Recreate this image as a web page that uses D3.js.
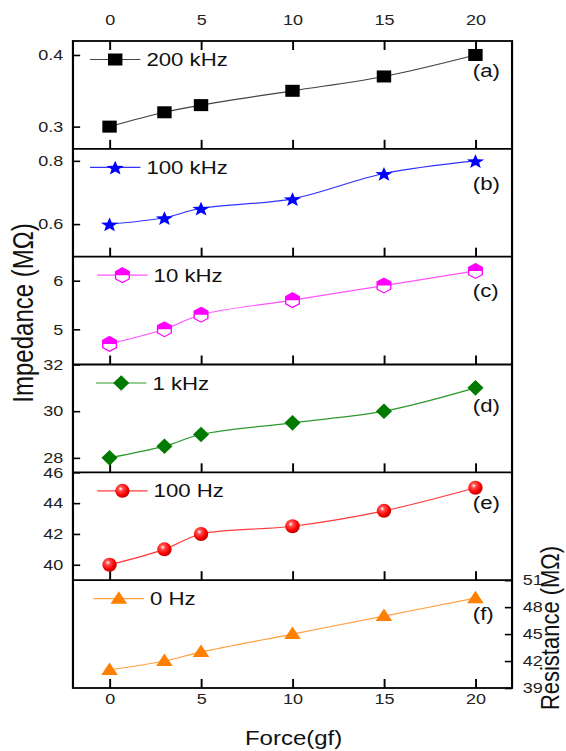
<!DOCTYPE html>
<html>
<head>
<meta charset="utf-8">
<script src="https://cdn.jsdelivr.net/npm/d3@7"></script>
<style>
  html, body { margin: 0; padding: 0; background: #fff; }
  svg text { font-family: "Liberation Sans", Arial, sans-serif; }
</style>
</head>
<body>
<svg id="chart"></svg>
<script>
// values
var force = [0, 3, 5, 10, 15, 20];
var imp200k = [0.30, 0.32, 0.33, 0.35, 0.37, 0.40];
var imp100k = [0.60, 0.62, 0.65, 0.68, 0.76, 0.80];
var imp10k = [4.7, 5.0, 5.3, 5.6, 5.9, 6.2];
var imp1k = [28, 28.5, 29, 29.5, 30, 31];
var imp100 = [40, 41, 42, 42.5, 43.5, 45];
var res0 = [41, 42, 43, 45, 47, 49];

var seriesNames = ["200 kHz", "100 kHz", "10 kHz", "1 kHz", "100 Hz", "0 Hz"];
var panelTags = ["(a)", "(b)", "(c)", "(d)", "(e)", "(f)"];
var xTicks = [0, 5, 10, 15, 20];
var yTicks = [[0.3, 0.4], [0.6, 0.8], [5, 6], [28, 30, 32], [40, 42, 44, 46], [39, 42, 45, 48, 51]];
var yDomains = [[0.269, 0.4195], [0.497, 0.838], [4.276, 6.494], [27.38, 32], [39, 46], [39, 51]];

var allSeries = [imp200k, imp100k, imp10k, imp1k, imp100, res0];
var markerColors = ["#000000", "#0000ff", "#ff00ff", "#007a00", "#ff0000", "#ff8000"];
var lineColors = ["#444444", "#3333ff", "#ff55ff", "#2e9a2e", "#ff3b3b", "#ffa040"];
var markerKinds = ["square", "star", "hexhalf", "diamond", "ball", "triangle"];

// the original figure is stretched sideways, so draw in a narrower box and stretch it
var W = 566, H = 751, SX = 1.2;
var DW = W / SX;

var svg = d3.select("#chart")
  .attr("width", W).attr("height", H)
  .attr("viewBox", "0 0 " + DW + " " + H)
  .attr("preserveAspectRatio", "none");

var defs = svg.append("defs");
var grad = defs.append("radialGradient").attr("id", "ballGrad")
  .attr("cx", "38%").attr("cy", "35%").attr("r", "65%");
grad.append("stop").attr("offset", "0%").attr("stop-color", "#ffffff");
grad.append("stop").attr("offset", "25%").attr("stop-color", "#ff5050");
grad.append("stop").attr("offset", "70%").attr("stop-color", "#ff0000");
grad.append("stop").attr("offset", "100%").attr("stop-color", "#c00000");

var frameL = 60.8, frameR = 426.7, frameT = 41, frameB = 688;
var ph = (frameB - frameT) / 6;

var x = d3.scaleLinear().domain([-2, 22]).range([frameL, frameR]);
var plain = function(d) { return String(d); };

// layout tweaks per panel (legend shift, tag height)
var legendDx = [0, 0, 6, 5, 6, 3];
var tagDy = [29, 34.5, 33.5, 40.5, 30.5, 33];

function drawMarker(g, kind, color) {
  if (kind === "square") {
    g.append("rect").attr("x", -6).attr("y", -6).attr("width", 12).attr("height", 12)
      .attr("fill", color);
  } else if (kind === "star") {
    var pts = [];
    for (var i = 0; i < 10; i++) {
      var r = i % 2 === 0 ? 7.6 : 3.2;
      var a = -Math.PI / 2 + i * Math.PI / 5;
      pts.push([r * Math.cos(a), r * Math.sin(a) + 1]);
    }
    g.append("path").attr("d", "M" + pts.join("L") + "Z").attr("fill", color);
  } else if (kind === "hexhalf") {
    var hex = [];
    for (var j = 0; j < 6; j++) {
      var b = -Math.PI / 2 + j * Math.PI / 3;
      hex.push([6.6 * Math.cos(b), 7.4 * Math.sin(b)]);
    }
    g.append("path").attr("d", "M" + hex.join("L") + "Z")
      .attr("fill", "#fff").attr("stroke", color).attr("stroke-width", 1.1);
    var topHalf = [[hex[4][0], 0], hex[4], hex[5], hex[0], hex[1], [hex[1][0], 0]];
    g.append("path").attr("d", "M" + topHalf.join("L") + "Z").attr("fill", color);
  } else if (kind === "diamond") {
    g.append("path").attr("d", "M0,-7.8L6.7,0L0,7.8L-6.7,0Z").attr("fill", color);
  } else if (kind === "ball") {
    g.append("ellipse").attr("rx", 6).attr("ry", 7).attr("fill", "url(#ballGrad)");
  } else if (kind === "triangle") {
    g.append("path").attr("d", "M0,-7.5L6.9,5L-6.9,5Z").attr("fill", color);
  }
}

allSeries.forEach(function(vals, i) {
  var p0 = frameT + i * ph;
  var y = d3.scaleLinear().domain(yDomains[i]).range([p0 + ph, p0]);
  var g = svg.append("g").attr("class", "panel");

  // inward ticks on the bottom edge of every panel
  var bAxis = d3.axisBottom(x).tickValues(xTicks).tickSize(-9).tickPadding(5).tickFormat(plain);
  if (i < 5) bAxis.tickFormat("");
  var bg = g.append("g").attr("transform", "translate(0," + (p0 + ph) + ")").call(bAxis);
  bg.select(".domain").remove();

  if (i === 0) {
    var tg = g.append("g").attr("transform", "translate(0," + p0 + ")")
      .call(d3.axisTop(x).tickValues(xTicks).tickSize(-9).tickPadding(16).tickFormat(plain));
    tg.select(".domain").remove();
  }

  if (i < 5) {
    var lg = g.append("g").attr("transform", "translate(" + frameL + ",0)")
      .call(d3.axisLeft(y).tickValues(yTicks[i]).tickSize(-6).tickPadding(8).tickFormat(plain));
    lg.select(".domain").remove();
  } else {
    var rg = g.append("g").attr("transform", "translate(" + frameR + ",0)")
      .call(d3.axisRight(y).tickValues(yTicks[i]).tickSize(-6).tickPadding(9).tickFormat(plain));
    rg.select(".domain").remove();
  }

  g.selectAll(".tick line").attr("stroke", "#000").attr("stroke-width", 1.6);
  g.selectAll(".tick text").attr("fill", "#222").style("font-size", "15px");

  var pts = force.map(function(f, k) { return [f, vals[k]]; });
  var line = d3.line().x(function(d) { return x(d[0]); }).y(function(d) { return y(d[1]); })
    .curve(d3.curveCatmullRom.alpha(0.5));
  g.append("path").datum(pts).attr("d", line)
    .attr("fill", "none").attr("stroke", lineColors[i]).attr("stroke-width", 1.2);

  g.selectAll(".pt").data(pts).enter().append("g").attr("class", "pt")
    .attr("transform", function(d) { return "translate(" + x(d[0]) + "," + y(d[1]) + ")"; })
    .each(function() { drawMarker(d3.select(this), markerKinds[i], markerColors[i]); });

  // legend
  var ly = p0 + 18.5, lx = 75 + legendDx[i];
  g.append("line").attr("x1", lx).attr("x2", lx + 42).attr("y1", ly).attr("y2", ly)
    .attr("stroke", lineColors[i]).attr("stroke-width", 1.2);
  drawMarker(g.append("g").attr("transform", "translate(" + (lx + 21) + "," + ly + ")"),
    markerKinds[i], markerColors[i]);
  g.append("text").attr("x", lx + 47).attr("y", ly).attr("dy", "0.36em")
    .style("font-size", "18.5px").attr("fill", "#111").text(seriesNames[i]);

  g.append("text").attr("x", 394).attr("y", p0 + tagDy[i]).attr("dy", "0.36em")
    .style("font-size", "18.5px").attr("fill", "#111").text(panelTags[i]);
});

// frame and panel separators
svg.append("rect").attr("x", frameL).attr("y", frameT).attr("width", frameR - frameL).attr("height", frameB - frameT)
  .attr("fill", "none").attr("stroke", "#000").attr("stroke-width", 1.8);
d3.range(1, 6).forEach(function(k) {
  svg.append("line").attr("x1", frameL).attr("x2", frameR)
    .attr("y1", frameT + k * ph).attr("y2", frameT + k * ph)
    .attr("stroke", "#000").attr("stroke-width", 1.8);
});

svg.append("text").attr("transform", "translate(27.5,313) rotate(-90)")
  .attr("text-anchor", "middle").style("font-size", "24px").attr("fill", "#111")
  .text("Impedance (M\u03A9)");
svg.append("text").attr("transform", "translate(466,628) rotate(-90)")
  .attr("text-anchor", "middle").style("font-size", "22px").attr("fill", "#111")
  .text("Resistance (M\u03A9)");
svg.append("text").attr("x", 244.7).attr("y", 745)
  .attr("text-anchor", "middle").style("font-size", "20px").attr("fill", "#111")
  .text("Force(gf)");
</script>
</body>
</html>
